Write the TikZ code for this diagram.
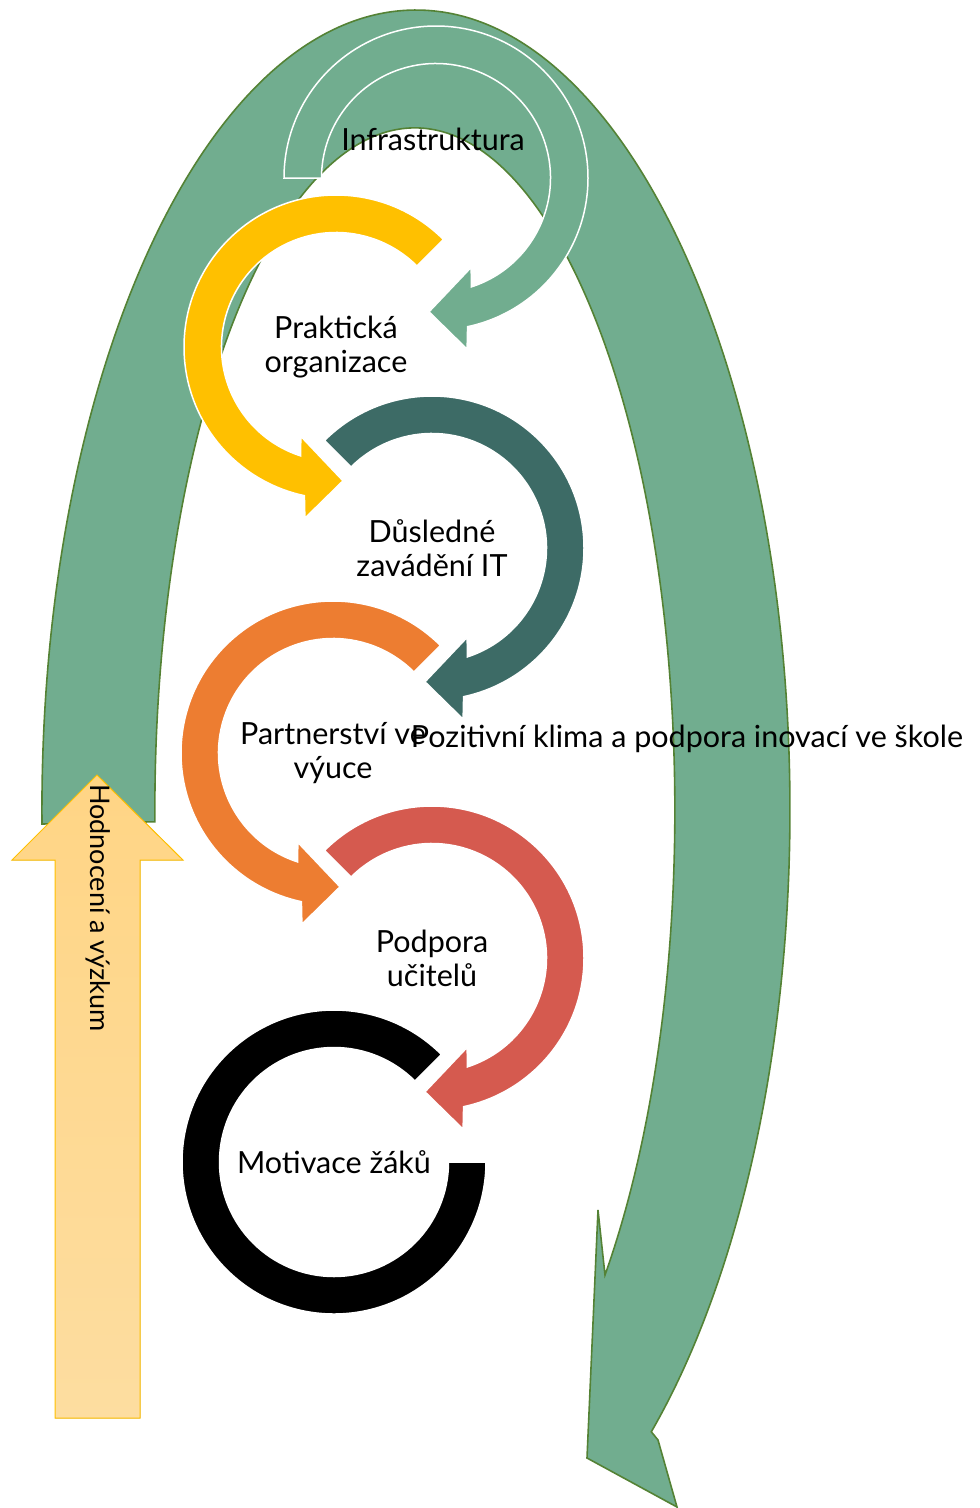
\documentclass[tikz,border=0pt]{standalone}
\usepackage{fontspec}
\setmainfont{Lato}
\usetikzlibrary{calc}

\definecolor{bigGreen}{HTML}{71AD8F}
\definecolor{bigGreenLine}{HTML}{548235}
\definecolor{ringGold}{HTML}{FFC000}
\definecolor{ringTeal}{HTML}{3D6B66}
\definecolor{ringOrange}{HTML}{ED7D31}
\definecolor{ringRed}{HTML}{D55A4F}
\definecolor{evalTop}{HTML}{FFD585}
\definecolor{evalBottom}{HTML}{FDDDA0}
\definecolor{evalLine}{HTML}{FFC000}

% ring arrow turning clockwise: centre, start angle, colour
\newcommand{\cwring}[3]{%
  \filldraw[ring, fill=#3] ($(#1)+(#2:152pt)$) arc[start angle=#2, end angle=-78, radius=152pt]
    -- ($(#1)+(-79.7:174pt)$) -- ($(#1)+(-93:134pt)$) -- ($(#1)+(-68.5:96pt)$)
    -- ($(#1)+(-72:114.5pt)$) arc[start angle=-72, end angle=#2, radius=114.5pt] -- cycle;}
% ring arrow turning counter-clockwise
\newcommand{\ccwring}[3]{%
  \filldraw[ring, fill=#3] ($(#1)+(#2:152pt)$) arc[start angle=#2, end angle=258, radius=152pt]
    -- ($(#1)+(259.7:174pt)$) -- ($(#1)+(273:134pt)$) -- ($(#1)+(248.5:96pt)$)
    -- ($(#1)+(252:114.5pt)$) arc[start angle=252, end angle=#2, radius=114.5pt] -- cycle;}

\begin{document}
\begin{tikzpicture}[
    x=1pt, y=1pt,
    lbl/.style={align=center, inner sep=0pt, text=black,
                font=\fontsize{30.5}{34}\selectfont},
    ring/.style={draw=white, line width=1.5pt},
    bigarrow/.style={fill=bigGreen, draw=bigGreenLine, line width=1.6pt, line join=miter},
    evalarrow/.style={top color=evalTop, bottom color=evalBottom, draw=evalLine, line width=1pt}
]
\useasboundingbox (0,0) rectangle (980,-1508);
% ring centres
\coordinate (c1) at (436,-178);
\coordinate (c2) at (336,-347);
\coordinate (c3) at (432,-548);
\coordinate (c4) at (333,-753);
\coordinate (c5) at (432,-958);
\coordinate (c6) at (334,-1162);

% Big curved arrow
\filldraw[bigarrow] (42,-824) arc[start angle=181, end angle=-51, x radius=374pt, y radius=800pt]
    -- (658,-1440) -- (677,-1507) -- (587,-1458) -- (598,-1210) -- (605,-1275)
    arc[start angle=-43, end angle=181, x radius=260pt, y radius=682pt] -- cycle;

% Evaluation arrow
\filldraw[evalarrow] (97,-775) -- (183,-860) -- (140,-860) -- (140,-1418)
    -- (55,-1418) -- (55,-860) -- (12,-860) -- cycle;

% Rings
\cwring{c1}{180}{bigGreen}
\ccwring{c2}{45}{ringGold}
\cwring{c3}{135}{ringTeal}
\ccwring{c4}{45}{ringOrange}
\cwring{c5}{135}{ringRed}
\filldraw[ring, fill=black] ($(c6)+(45:152pt)$) arc[start angle=45, end angle=360, radius=152pt]
    -- ($(c6)+(0:114.5pt)$) arc[start angle=360, end angle=45, radius=114.5pt] -- cycle;

% Labels
\node[lbl] (infra) at (433,-139) {Infrastruktura};
\node[lbl] (prakt) at (c2) {Praktická\\organizace};
\node[lbl] (dusl) at (c3) {Důsledné\\zavádění IT};
\node[lbl] (partn) at (c4) {Partnerství ve\\výuce};
\node[lbl] (podp) at (c5) {Podpora\\učitelů};
\node[lbl] (motiv) at (c6) {Motivace žáků};
\node[lbl] (klima) at (687,-739) {Pozitivní klima a podpora inovací ve škole};
\node[lbl, font=\fontsize{27}{32}\selectfont, rotate=-90] (hodn) at (98,-908) {Hodnocení a výzkum};
\end{tikzpicture}
\end{document}
